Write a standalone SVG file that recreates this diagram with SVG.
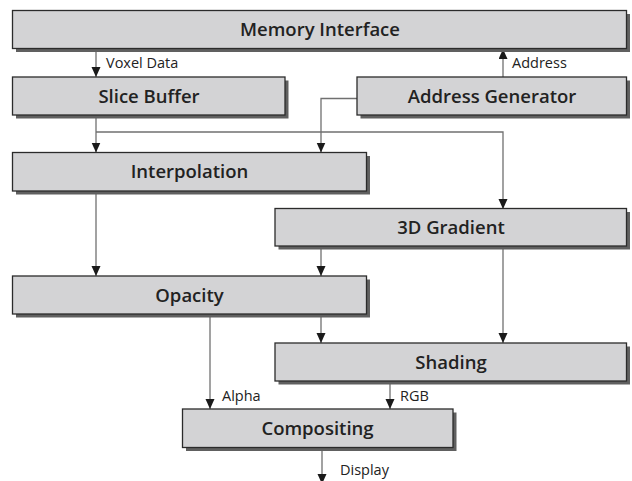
<svg xmlns="http://www.w3.org/2000/svg" width="632" height="481" viewBox="0 0 632 481">
<style>
.box{fill:#d3d3d5;stroke:#2b2b2b;stroke-width:1.3}
.sh{fill:#606060}
.lbl{font-family:"Open Sans","Liberation Sans",sans-serif;font-size:18.5px;font-weight:600;fill:#222;text-anchor:middle}
.sm{font-family:"Open Sans","Liberation Sans",sans-serif;font-size:14.5px;fill:#222}
.c{fill:none;stroke:#707070;stroke-width:1.3}
</style>
<defs>
<marker id="ah" markerUnits="userSpaceOnUse" markerWidth="11" markerHeight="10" refX="10" refY="4.5" orient="auto">
<path d="M0,0 L10,4.5 L0,9 z" fill="#1a1a1a"/>
</marker>
</defs>
<rect width="632" height="481" fill="#fff"/>
<g id="connectors">
<path class="c" d="M96,49 V77" marker-end="url(#ah)"/>
<path class="c" d="M503,77 V49" marker-end="url(#ah)"/>
<path class="c" d="M96,115 V152.5" marker-end="url(#ah)"/>
<path class="c" d="M96,132 H503 V209" marker-end="url(#ah)"/>
<path class="c" d="M357,98.5 H321 V152.5" marker-end="url(#ah)"/>
<path class="c" d="M96,191 V276" marker-end="url(#ah)"/>
<path class="c" d="M321,246 V276" marker-end="url(#ah)"/>
<path class="c" d="M503,246 V343" marker-end="url(#ah)"/>
<path class="c" d="M321,314 V343" marker-end="url(#ah)"/>
<path class="c" d="M210,314 V409" marker-end="url(#ah)"/>
<path class="c" d="M390,381 V409" marker-end="url(#ah)"/>
<path class="c" d="M322,448 V484" marker-end="url(#ah)"/>
<text class="sm" x="106" y="68">Voxel Data</text>
<text class="sm" x="512" y="68">Address</text>
<text class="sm" x="222" y="401">Alpha</text>
<text class="sm" x="400" y="401">RGB</text>
<text class="sm" x="340" y="475">Display</text>
</g>
<g id="memory-interface">
<rect class="sh" x="16" y="14" width="614" height="38"/>
<rect class="box" x="12.5" y="10.5" width="614" height="38"/>
<text class="lbl" x="320" y="36">Memory Interface</text>
</g>
<g id="slice-buffer">
<rect class="sh" x="16" y="80.5" width="272.5" height="38"/>
<rect class="box" x="12.5" y="77" width="272.5" height="38"/>
<text class="lbl" x="149" y="102.5">Slice Buffer</text>
</g>
<g id="address-generator">
<rect class="sh" x="360.5" y="80.5" width="269.5" height="38"/>
<rect class="box" x="357" y="77" width="269.5" height="38"/>
<text class="lbl" x="492" y="102.5">Address Generator</text>
</g>
<g id="interpolation">
<rect class="sh" x="16" y="156" width="354" height="38.5"/>
<rect class="box" x="12.5" y="152.5" width="354" height="38.5"/>
<text class="lbl" x="189.5" y="178">Interpolation</text>
</g>
<g id="gradient-3d">
<rect class="sh" x="278.5" y="212" width="351.5" height="37.5"/>
<rect class="box" x="275" y="208.5" width="351.5" height="37.5"/>
<text class="lbl" x="451" y="234">3D Gradient</text>
</g>
<g id="opacity">
<rect class="sh" x="16" y="279.5" width="354" height="38"/>
<rect class="box" x="12.5" y="276" width="354" height="38"/>
<text class="lbl" x="189.5" y="301.5">Opacity</text>
</g>
<g id="shading">
<rect class="sh" x="278.5" y="346.5" width="351.5" height="38"/>
<rect class="box" x="275" y="343" width="351.5" height="38"/>
<text class="lbl" x="451" y="368.5">Shading</text>
</g>
<g id="compositing">
<rect class="sh" x="186" y="412.5" width="270.5" height="38.5"/>
<rect class="box" x="182.5" y="409" width="270.5" height="38.5"/>
<text class="lbl" x="317.5" y="435">Compositing</text>
</g>
</svg>
